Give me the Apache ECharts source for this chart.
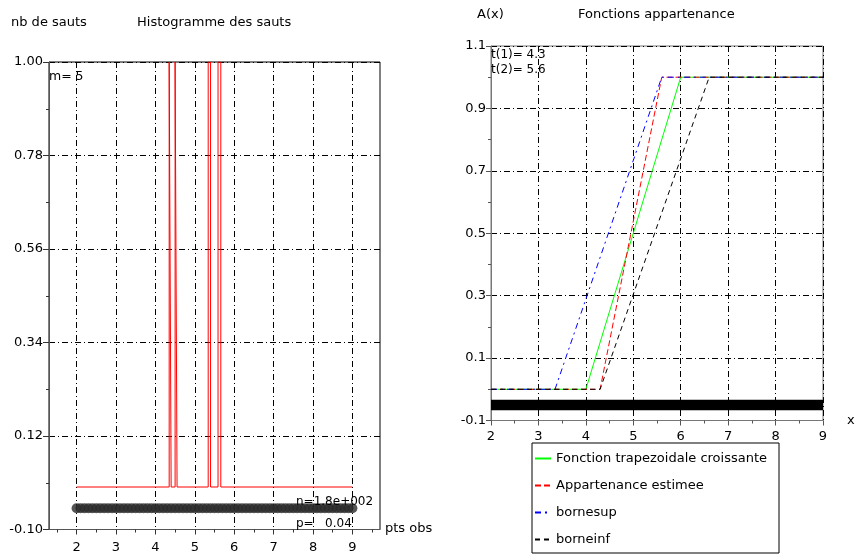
<!DOCTYPE html>
<html><head><meta charset="utf-8">
<script src="https://cdn.jsdelivr.net/npm/echarts@6/dist/echarts.min.js"></script>
<style>html,body{margin:0;padding:0;background:#fff}#c{width:857px;height:554px}</style>
</head><body><div id="c"></div>
<script>
// ---- data ----
const histX = [2, 4.35, 4.35, 4.40, 4.40, 4.50, 4.50, 4.55, 4.55, 5.34, 5.34, 5.40, 5.40, 5.59, 5.59, 5.66, 5.66, 9];
const histY = [0, 0, 1, 1, 0, 0, 1, 1, 0, 0, 1, 1, 0, 0, 1, 1, 0, 0];
const obsX = [2.0,2.1,2.2,2.3,2.4,2.5,2.6,2.7,2.8,2.9,3.0,3.1,3.2,3.3,3.4,3.5,3.6,3.7,3.8,3.9,
  4.0,4.1,4.2,4.3,4.4,4.5,4.6,4.7,4.8,4.9,5.0,5.1,5.2,5.3,5.4,5.5,5.6,5.7,5.8,5.9,
  6.0,6.1,6.2,6.3,6.4,6.5,6.6,6.7,6.8,6.9,7.0,7.1,7.2,7.3,7.4,7.5,7.6,7.7,7.8,7.9,
  8.0,8.1,8.2,8.3,8.4,8.5,8.6,8.7,8.8,8.9,9.0];
const obsLevel = -0.05;
const trapX = [2, 4, 6, 9];     const trapY = [0, 0, 1, 1];
const estX  = [2, 4.3, 5.6, 9]; const estY  = [0, 0, 1, 1];
const supX  = [2, 3.35, 5.6, 9]; const supY = [0, 0, 1, 1];
const infX  = [2, 4.3, 6.6, 9]; const infY  = [0, 0, 1, 1];
const leftXTicks = [2, 3, 4, 5, 6, 7, 8, 9];
const leftXMinor = [1.5, 2.5, 3.5, 4.5, 5.5, 6.5, 7.5, 8.5, 9.5];
const names = ['Fonction trapezoidale croissante', 'Appartenance estimee', 'bornesup', 'borneinf'];

const F = 'DejaVu Sans';
const zip = (xs, ys) => xs.map((x, i) => [x, ys[i]]);
const dashDot = [6, 3, 1, 3];

function txt(text, x, y, size, align) {
  return { type: 'text', x: x, y: y, z: 100,
    style: { text: text, font: size + 'px "' + F + '"', fill: '#000',
      textAlign: align || 'left', textVerticalAlign: 'middle' } };
}

const chart = echarts.init(document.getElementById('c'));
chart.setOption({
  animation: false,
  backgroundColor: '#fff',
  textStyle: { fontFamily: F },
  grid: [
    { left: 49, top: 62, width: 331, height: 467.5, show: true, borderColor: '#000', borderWidth: 1, outerBoundsMode: 'none', containLabel: false },
    { left: 491, top: 46, width: 332, height: 374.5, show: true, borderColor: '#777', borderWidth: 1, outerBoundsMode: 'none', containLabel: false }
  ],
  xAxis: [
    { type: 'value', gridIndex: 0, min: 1.3, max: 9.7, position: 'bottom',
      axisLine: { onZero: false, lineStyle: { color: '#555' } },
      axisTick: { customValues: leftXTicks, length: 5, lineStyle: { color: '#333' } },
      axisLabel: { customValues: leftXTicks, margin: 12, color: '#000', fontSize: 13, fontFamily: F },
      splitLine: { show: true, lineStyle: { color: '#000', type: dashDot } } },
    { type: 'value', gridIndex: 0, min: 1.3, max: 9.7, position: 'bottom',
      axisLine: { show: false, onZero: false },
      axisTick: { customValues: leftXMinor, length: 3, lineStyle: { color: '#333' } },
      axisLabel: { show: false }, splitLine: { show: false } },
    { type: 'value', gridIndex: 1, min: 2, max: 9, interval: 1, position: 'bottom',
      axisLine: { onZero: false, lineStyle: { color: '#777' } },
      axisTick: { length: 5, lineStyle: { color: '#555' } },
      minorTick: { show: true, splitNumber: 2, length: 3, lineStyle: { color: '#555' } },
      axisLabel: { margin: 10, color: '#000', fontSize: 13, fontFamily: F },
      splitLine: { show: true, lineStyle: { color: '#000', type: dashDot } } }
  ],
  yAxis: [
    { type: 'value', gridIndex: 0, min: -0.1, max: 1.0, interval: 0.22,
      axisLine: { show: true, onZero: false, lineStyle: { color: '#555' } },
      axisTick: { show: true, length: 6, lineStyle: { color: '#333' } },
      minorTick: { show: true, splitNumber: 2, length: 3, lineStyle: { color: '#333' } },
      axisLabel: { margin: 6, color: '#000', fontSize: 13, fontFamily: F, formatter: v => v.toFixed(2) },
      splitLine: { show: true, lineStyle: { color: '#000', type: dashDot } } },
    { type: 'value', gridIndex: 1, min: -0.1, max: 1.1, interval: 0.2,
      axisLine: { show: true, onZero: false, lineStyle: { color: '#777' } },
      axisTick: { show: true, length: 5, lineStyle: { color: '#555' } },
      minorTick: { show: true, splitNumber: 2, length: 3, lineStyle: { color: '#555' } },
      axisLabel: { margin: 5, color: '#000', fontSize: 13, fontFamily: F, formatter: v => v.toFixed(1) },
      splitLine: { show: true, lineStyle: { color: '#000', type: dashDot } } }
  ],
  legend: {
    data: names, orient: 'vertical', left: 532, top: 443,
    backgroundColor: '#fff', borderColor: '#000', borderWidth: 1, borderRadius: 0,
    padding: [9, 12, 7, 2], itemWidth: 16, itemHeight: 14, itemGap: 14,
    itemStyle: { opacity: 0 },
    textStyle: { color: '#000', fontSize: 13, fontFamily: F },
    selectedMode: false
  },
  series: [
    { name: 'obs1', type: 'scatter', xAxisIndex: 0, yAxisIndex: 0, symbol: 'circle', symbolSize: 10,
      data: obsX.map(x => [x, obsLevel]), itemStyle: { color: '#2b2b2b', borderWidth: 0 }, z: 2 },
    { name: 'hist', type: 'line', xAxisIndex: 0, yAxisIndex: 0, symbol: 'none',
      data: zip(histX, histY), lineStyle: { color: '#ff0000', width: 1 }, z: 3 },
    { name: 'obs2', type: 'line', xAxisIndex: 2, yAxisIndex: 1, symbol: 'none', clip: true,
      data: obsX.map(x => [x, obsLevel]), lineStyle: { color: '#000', width: 10.5, cap: 'butt' }, z: 2 },
    { name: names[0], type: 'line', xAxisIndex: 2, yAxisIndex: 1, symbol: 'none', data: zip(trapX, trapY),
      color: '#00ff00', lineStyle: { color: '#00ff00', width: 1, type: 'solid' }, z: 3 },
    { name: names[1], type: 'line', xAxisIndex: 2, yAxisIndex: 1, symbol: 'none', data: zip(estX, estY),
      color: '#ff0000', lineStyle: { color: '#ff0000', width: 1, type: [6, 3] }, z: 3 },
    { name: names[2], type: 'line', xAxisIndex: 2, yAxisIndex: 1, symbol: 'none', data: zip(supX, supY),
      color: '#0000ff', lineStyle: { color: '#0000ff', width: 1, type: [6, 4, 2, 4] }, z: 3 },
    { name: names[3], type: 'line', xAxisIndex: 2, yAxisIndex: 1, symbol: 'none', data: zip(infX, infY),
      color: '#000000', lineStyle: { color: '#000000', width: 1, type: [5, 4] }, z: 3 }
  ],
  graphic: [
    txt('nb de sauts', 11, 23, 13),
    txt('Histogramme des sauts', 137, 23, 13),
    txt('m= 5', 49, 77, 12.5),
    txt('n=1.8e+002', 296, 502, 12),
    txt('p=   0.04', 296, 524, 12),
    txt('pts obs', 385, 529, 13),
    txt('A(x)', 477, 15, 13),
    txt('Fonctions appartenance', 578, 15, 13),
    txt('t(1)= 4.3', 491, 55, 12),
    txt('t(2)= 5.6', 491, 70, 12),
    txt('x', 847, 421, 13)
  ]
});
</script></body></html>
